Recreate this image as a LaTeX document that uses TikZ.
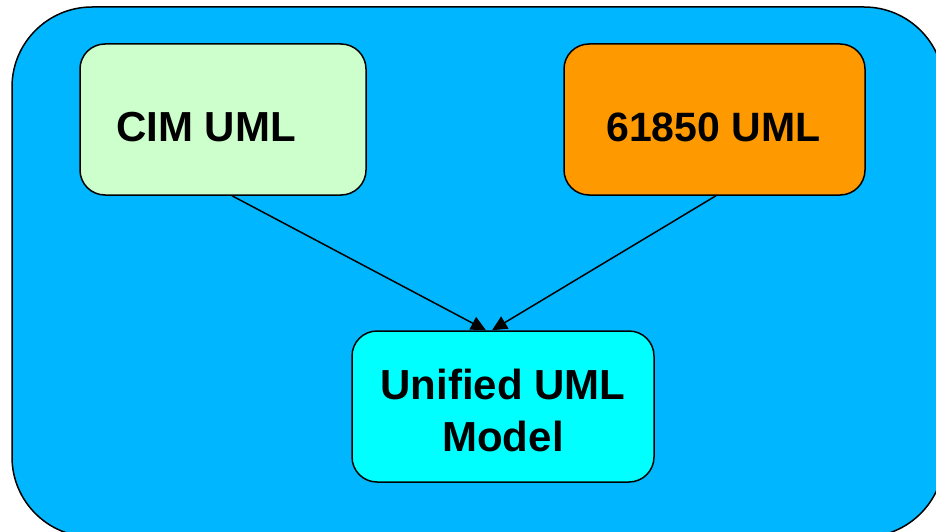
\documentclass[tikz,border=0pt]{standalone}
\usepackage{fontspec}
\setmainfont{Liberation Sans}
\usetikzlibrary{arrows.meta}
\definecolor{outerblue}{RGB}{0,183,255}
\definecolor{cimgreen}{RGB}{204,255,204}
\definecolor{orangebox}{RGB}{255,153,0}
\definecolor{cyanbox}{RGB}{0,255,255}
\tikzset{
  box/.style={draw=black, line width=1.5pt, rounded corners=25pt, inner sep=0pt},
  lbl/.style={font=\fontsize{42}{52}\selectfont\bfseries, inner sep=0pt, align=center},
  arr/.style={line width=1.5pt, -{Triangle[length=15pt,width=14pt]}},
}
\begin{document}
\begin{tikzpicture}[x=1pt,y=-1pt]
\useasboundingbox (0,0) rectangle (936,532);
\clip (0,0) rectangle (936,532);
\draw[line width=1.5pt, fill=outerblue, rounded corners=80pt] (12,7) rectangle (944,537);
\node[box, fill=cimgreen, minimum width=286pt, minimum height=151pt] (cim) at (223,119.5) {};
\node[box, fill=orangebox, minimum width=301pt, minimum height=151pt] (iec) at (714.5,119.5) {};
\node[box, fill=cyanbox, minimum width=302pt, minimum height=151pt] (uni) at (503,406.5) {};
\node[lbl] (cimt) at (206,127) {CIM UML};
\node[lbl, font=\fontsize{41}{50}\selectfont\bfseries] (iect) at (713.5,127) {61850 UML};
\node[lbl] (unit) at (503,410) {Unified UML\\Model};
\draw[arr] ([xshift=9pt]cim.south) -- ([xshift=-17pt]uni.north);
\draw[arr] ([xshift=1.5pt]iec.south) -- ([xshift=-11pt]uni.north);
\end{tikzpicture}
\end{document}
